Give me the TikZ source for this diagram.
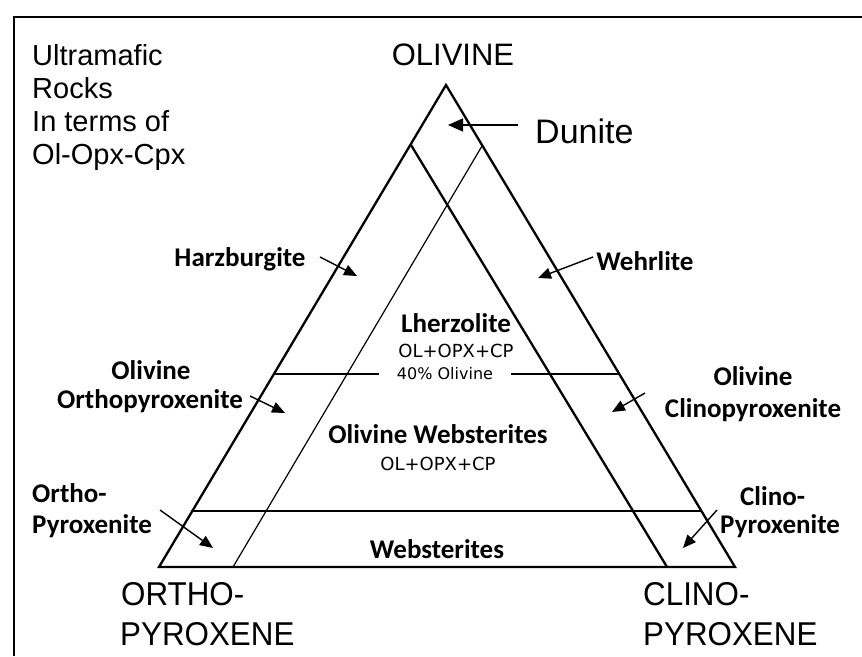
\documentclass[tikz,border=0pt]{standalone}
\usepackage{fontspec}
\setmainfont{Liberation Sans}
\newfontfamily\labfont{Carlito}
\newfontfamily\bigfont[FakeStretch=0.95]{Liberation Sans}
\newfontfamily\smallfont{DejaVu Sans}
\usetikzlibrary{arrows.meta}
\begin{document}
\begin{tikzpicture}[x=1pt,y=-1pt,
  edge/.style={line width=2.3pt,line join=miter},
  thinline/.style={line width=1.2pt},
  arr/.style={line width=1.4pt,-{Triangle[length=13pt,width=11pt]}},
  lab/.style={font=\labfont\bfseries\fontsize{27}{30}\selectfont,inner sep=0pt},
  title/.style={font=\fontsize{29}{33}\selectfont,inner sep=0pt,anchor=base west},
  corner/.style={font=\bigfont\fontsize{33}{40}\selectfont,inner sep=0pt,anchor=base west},
  formula/.style={font=\smallfont\fontsize{18}{20}\selectfont,inner sep=0pt,anchor=base}]
\useasboundingbox (0,0) rectangle (862,656);
\fill[white] (0,0) rectangle (862,656);
\draw[line width=2pt] (14,656) -- (14,17) -- (862,17);

% triangle
\coordinate (O) at (446,85);
\coordinate (P) at (159,567);
\coordinate (C) at (735,567);
\coordinate (a1) at (411,145);
\coordinate (a2) at (667,567);
\coordinate (b1) at (482,146);
\coordinate (b2) at (233,567);
\coordinate (h1) at (273,374);
\coordinate (h2) at (619,374);
\coordinate (k1) at (191,511);
\coordinate (k2) at (701,511);
\draw[edge] (O) -- (P) -- (C) -- cycle;
\draw[edge] (a1) -- (a2);
\draw[thinline] (b1) -- (b2);
\draw[edge] (k1) -- (k2);
\draw[line width=2pt] (h1) -- (h2);

% titles
\node[title] (t1) at (32,65) {Ultramafic};
\node[title] (t2) at (32,98) {Rocks};
\node[title] (t3) at (32,131) {In terms of};
\node[title] (t4) at (32,164) {Ol-Opx-Cpx};
\node[font=\fontsize{31}{35}\selectfont,inner sep=0pt,anchor=base] (olv) at (453,65) {OLIVINE};
\node[font=\fontsize{34}{38}\selectfont,inner sep=0pt,anchor=base west] (dun) at (535,143) {Dunite};
\node[corner] (op1) at (121,605) {ORTHO-};
\node[corner] (op2) at (120,645) {PYROXENE};
\node[corner] (cp1) at (643,605) {CLINO-};
\node[corner] (cp2) at (643,645) {PYROXENE};

% central labels
\node[lab,anchor=base] (lhz) at (456,332) {Lherzolite};
\node[formula] (f1) at (456,357) {OL+OPX+CP};
\node[font=\smallfont\fontsize{16}{18}\selectfont,anchor=base,fill=white,inner xsep=18pt,inner ysep=2pt] (p40) at (445,379) {40\% Olivine};
\node[lab,anchor=base] (owb) at (438,443) {Olivine Websterites};
\node[formula] (f2) at (438,470) {OL+OPX+CP};
\node[lab,anchor=base] (web) at (437,558) {Websterites};

% side labels
\node[lab,anchor=base] (harz) at (240,266) {Harzburgite};
\node[lab,anchor=base] (wehr) at (645,270) {Wehrlite};
\node[lab,anchor=base] (oo1) at (151,379) {Olivine};
\node[lab,anchor=base] (oo2) at (150,408) {Orthopyroxenite};
\node[lab,anchor=base] (oc1) at (753,385) {Olivine};
\node[lab,anchor=base] (oc2) at (753,417) {Clinopyroxenite};
\node[lab,anchor=base west] (or1) at (32,502) {Ortho-};
\node[lab,anchor=base west] (or2) at (32,533) {Pyroxenite};
\node[lab,anchor=base west] (cl1) at (740,505) {Clino-};
\node[lab,anchor=base west] (cl2) at (720,533) {Pyroxenite};

% arrows
\coordinate (dunT) at (518,125);  \coordinate (dunH) at (448,125);
\coordinate (harT) at (320,257);  \coordinate (harH) at (357,276);
\coordinate (wehT) at (593,257);  \coordinate (wehH) at (538,278);
\coordinate (ooT) at (250,396);   \coordinate (ooH) at (285,413);
\coordinate (ocT) at (645,393);   \coordinate (ocH) at (612,412);
\coordinate (orT) at (160,510);   \coordinate (orH) at (213,548);
\coordinate (clT) at (717,510);   \coordinate (clH) at (683,548);
\draw[line width=1.6pt,-{Triangle[length=15pt,width=13pt]}] (dunT) -- (dunH);
\draw[arr] (harT) -- (harH);
\draw[arr] (wehT) -- (wehH);
\draw[arr] (ooT) -- (ooH);
\draw[arr] (ocT) -- (ocH);
\draw[arr] (orT) -- (orH);
\draw[arr] (clT) -- (clH);
\end{tikzpicture}
\end{document}
